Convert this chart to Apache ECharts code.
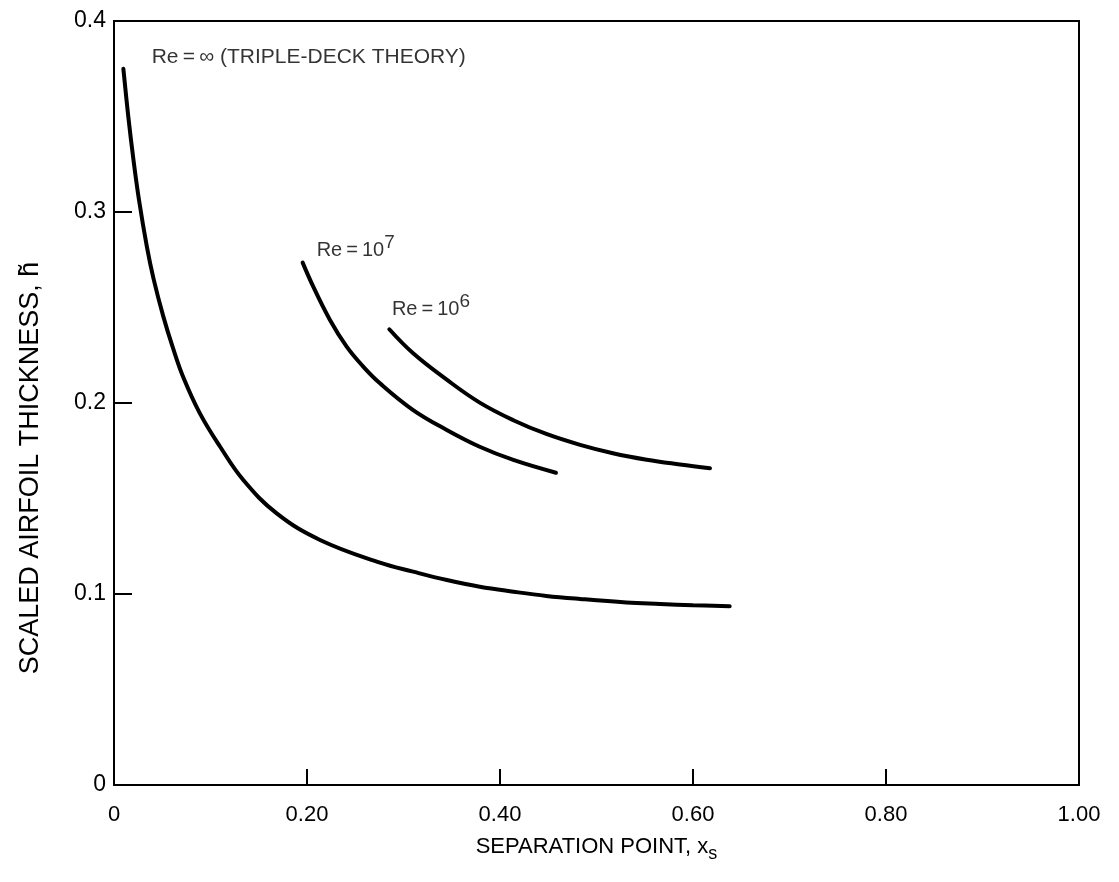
<!DOCTYPE html>
<html>
<head>
<meta charset="utf-8">
<script src="https://cdn.jsdelivr.net/npm/echarts@6/dist/echarts.min.js"></script>
<style>html,body{margin:0;padding:0;background:#fff}#c{width:1119px;height:882px}</style>
</head>
<body>
<div id="c"></div>
<script>
// Re = infinity (triple-deck theory)
var infX = [0.0097,0.0148,0.020,0.026,0.034,0.041,0.051,0.061,0.0718,0.089,0.110,0.134,0.1686,0.2135,0.2756,0.310,0.345,0.379,0.414,0.448,0.483,0.531,0.566,0.600,0.638];
var infY = [0.375,0.350,0.328,0.306,0.282,0.265,0.2455,0.229,0.2135,0.1946,0.1771,0.1597,0.1422,0.1283,0.1164,0.1117,0.1073,0.1038,0.1012,0.0990,0.0974,0.0956,0.0948,0.0941,0.0936];
// Re = 10^7
var re7X = [0.1955,0.2065,0.2238,0.2411,0.258,0.2756,0.310,0.3448,0.379,0.4138,0.458];
var re7Y = [0.2735,0.2609,0.2435,0.2295,0.2192,0.2103,0.1963,0.1859,0.1771,0.1702,0.1635];
// Re = 10^6
var re6X = [0.2853,0.310,0.3448,0.379,0.4138,0.448,0.483,0.517,0.552,0.5865,0.6176];
var re6Y = [0.2386,0.226,0.2122,0.2002,0.1910,0.1838,0.1781,0.1737,0.1703,0.1678,0.1658];
// annotation anchors (data units) and texts
var labelTexts = ['{big|Re\u2009=\u2009\u221E (TRIPLE-DECK THEORY)}', 'Re\u2009=\u200910{sup|7}', 'Re\u2009=\u200910{sup|6}'];
var labelX = [0.039, 0.210, 0.288];
var labelY = [0.381, 0.2796, 0.2487];
var xTicks = ['0','0.20','0.40','0.60','0.80','1.00'];
var yTicks = ['0','0.1','0.2','0.3','0.4'];

function zip(a,b){return a.map(function(v,i){return [v,b[i]];});}
var FONT = 'Liberation Sans';
var chart = echarts.init(document.getElementById('c'));
function curve(name, xs, ys){
  return {name:name, type:'line', data:zip(xs,ys), smooth:0.4,
    showSymbol:false, symbol:'none', lineStyle:{color:'#000', width:4, cap:'round'}, silent:true};
}
chart.setOption({
  animation:false,
  backgroundColor:'#fff',
  grid:{left:114, right:40, top:21, bottom:97, show:true, borderColor:'#000', borderWidth:2,
    containLabel:false, outerBoundsMode:'none'},
  xAxis:{type:'value', min:0, max:1, interval:0.2,
    axisLine:{show:true, lineStyle:{color:'#000', width:2}},
    axisTick:{show:true, inside:true, length:16, lineStyle:{color:'#000', width:2}},
    splitLine:{show:false},
    axisLabel:{color:'#000', fontFamily:FONT, fontSize:22, margin:19,
      formatter:function(v){return xTicks[Math.round(v/0.2)];}},
    name:'SEPARATION POINT, x{sub|s}', nameLocation:'middle', nameGap:46,
    nameTextStyle:{color:'#000', fontFamily:FONT, fontSize:22,
      rich:{sub:{fontSize:18, fontFamily:FONT, color:'#000', padding:[14,0,0,0]}}}
  },
  yAxis:{type:'value', min:0, max:0.4, interval:0.1,
    axisLine:{show:true, lineStyle:{color:'#000', width:2}},
    axisTick:{show:true, inside:true, length:18, lineStyle:{color:'#000', width:2}},
    splitLine:{show:false},
    axisLabel:{color:'#000', fontFamily:FONT, fontSize:23, margin:8,
      formatter:function(v){return yTicks[Math.round(v/0.1)];}},
    name:'SCALED AIRFOIL THICKNESS, h\u0303', nameLocation:'middle', nameGap:70,
    nameTextStyle:{color:'#000', fontFamily:FONT, fontSize:27, padding:[0,130,0,0]}
  },
  series:[
    curve('inf', infX, infY),
    curve('re7', re7X, re7Y),
    curve('re6', re6X, re6Y),
    {type:'scatter', symbolSize:0, silent:true,
      data:labelX.map(function(x,i){return [x,labelY[i]];}),
      label:{show:true, position:'right', distance:0, color:'#000', fontFamily:FONT, fontSize:20,
        formatter:function(p){return labelTexts[p.dataIndex];},
        rich:{sup:{fontSize:19, fontFamily:FONT, color:'#000', padding:[0,0,16,0]},
              big:{fontSize:21, fontFamily:FONT, color:'#000'}}}
    }
  ]
});
</script>
</body>
</html>
